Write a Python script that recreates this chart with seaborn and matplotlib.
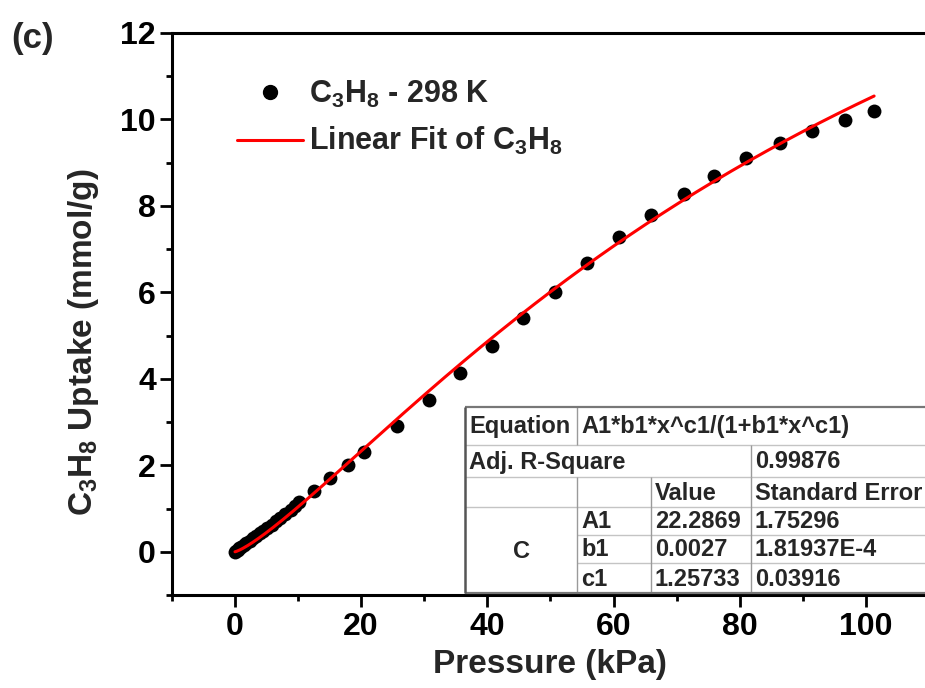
import numpy as np
import pandas as pd
import matplotlib
matplotlib.use("Agg")
import matplotlib.pyplot as plt
import seaborn as sns
from matplotlib.ticker import MultipleLocator
from matplotlib.lines import Line2D
from matplotlib.patches import Rectangle

# C3H8 adsorption isotherm at 298 K
pressure = [0.05, 0.2, 0.4, 0.7, 1.0, 1.4, 1.8, 2.3, 2.8, 3.3, 3.9, 4.5,
            5.1, 5.8, 6.5, 7.2, 8.0, 8.8, 9.5, 10.2,
            12.6, 15.1, 17.9, 20.4, 25.7, 30.7, 35.7, 40.7, 45.7, 50.7,
            55.8, 60.9, 65.9, 71.1, 75.9, 81.0, 86.4, 91.5, 96.7, 101.3]
uptake = [0.00, 0.02, 0.05, 0.08, 0.11, 0.15, 0.20, 0.25, 0.31, 0.36, 0.43, 0.49,
          0.56, 0.63, 0.71, 0.78, 0.87, 0.96, 1.05, 1.14,
          1.41, 1.70, 2.01, 2.30, 2.92, 3.52, 4.14, 4.77, 5.41, 6.02,
          6.67, 7.27, 7.78, 8.27, 8.69, 9.10, 9.45, 9.73, 9.98, 10.19]

# Fitted parameters
A1, b1, c1 = 22.2869, 0.0027, 1.25733
A1_txt, b1_txt, c1_txt = "22.2869", "0.0027", "1.25733"
A1_err, b1_err, c1_err = "1.75296", "1.81937E-4", "0.03916"
adj_r2 = "0.99876"
equation = "A1*b1*x^c1/(1+b1*x^c1)"

x_ticks = [0, 20, 40, 60, 80, 100]
y_ticks = [0, 2, 4, 6, 8, 10, 12]

sns.set_theme(style="ticks")
plt.rcParams.update({
    "font.family": ["Liberation Sans", "DejaVu Sans"],
    "font.weight": "bold",
    "mathtext.fontset": "custom",
    "mathtext.rm": "Liberation Sans:bold",
    "mathtext.it": "Liberation Sans:bold",
    "mathtext.bf": "Liberation Sans:bold",
    "mathtext.default": "rm",
    "axes.linewidth": 2.2,
    "xtick.major.width": 2.0,
    "ytick.major.width": 2.0,
    "xtick.minor.width": 2.0,
    "ytick.minor.width": 2.0,
    "xtick.color": "black",
    "ytick.color": "black",
    "axes.edgecolor": "black",
})

W, H = 925, 688
fig = plt.figure(figsize=(W / 100, H / 100), dpi=100)


def px_rect(l, t, r, b):
    return [l / W, 1 - b / H, (r - l) / W, (b - t) / H]


ax = fig.add_axes(px_rect(171.9, 33, 929, 595))

df = pd.DataFrame({"Pressure": pressure, "Uptake": uptake})
x_fit = np.linspace(0, pressure[-1], 400)
fit = pd.DataFrame({"Pressure": x_fit,
                    "Uptake": A1 * b1 * x_fit ** c1 / (1 + b1 * x_fit ** c1)})

sns.scatterplot(data=df, x="Pressure", y="Uptake", s=100, color="black",
                linewidth=0, ax=ax, zorder=3, legend=False)
sns.lineplot(data=fit, x="Pressure", y="Uptake", color="red", lw=2.2,
             ax=ax, zorder=4, legend=False)

ax.set_xlim(-10, 110)
ax.set_ylim(-1, 12)
ax.set_xticks(x_ticks)
ax.set_yticks(y_ticks)
ax.xaxis.set_minor_locator(MultipleLocator(10))
ax.yaxis.set_minor_locator(MultipleLocator(1))
ax.tick_params(which="major", length=8.5, labelsize=23, pad=3)
ax.tick_params(which="minor", length=4.5)
ax.tick_params(axis="x", pad=4)
for lab in ax.get_xticklabels() + ax.get_yticklabels():
    lab.set_fontweight("bold")
ax.spines["right"].set_visible(False)

ax.set_xlabel("Pressure (kPa)", fontsize=24, fontweight="bold")
ax.set_ylabel("C$_3$H$_8$ Uptake (mmol/g)", fontsize=24, fontweight="bold")
ax.xaxis.set_label_coords((550 - 171.9) / 757.1, (595 - 649) / 562)
ax.yaxis.set_label_coords((101 - 171.9) / 757.1, (595 - 342) / 562)
ax.xaxis.label.set_va("top")

handles = [
    Line2D([], [], marker="o", ls="none", color="black", markersize=10),
    Line2D([], [], color="red", lw=2.2),
]
labels = ["C$_3$H$_8$ - 298 K", "Linear Fit of C$_3$H$_8$"]
ax.legend(handles, labels, loc="upper left", frameon=False,
          bbox_to_anchor=(237 / W, 1 - 79 / H), bbox_transform=fig.transFigure,
          borderpad=0, borderaxespad=0, handlelength=2.15, handletextpad=0.2,
          labelspacing=0.5, prop={"family": "Liberation Sans", "weight": "bold", "size": 22})

fig.text(11 / W, 1 - 22 / H, "(c)", fontsize=25, fontweight="bold",
         ha="left", va="top")

# Parameter table drawn in pixel space on top of the plot
tab = fig.add_axes([0, 0, 1, 1], zorder=5)
tab.set_xlim(0, W)
tab.set_ylim(H, 0)
tab.axis("off")
tab.patch.set_alpha(0)

L, R = 465, 940
rows = [407, 445, 477, 507, 535, 563, 593]
cols = [465, 577, 651, 751, R]
inner = "#c4c4c4"
vline = "#9a9a9a"
tab.add_patch(Rectangle((L, rows[0]), R - L, rows[-1] - rows[0],
                        facecolor="white", edgecolor="none"))


def hl(y, x0, x1, c=inner, lw=1.0):
    tab.plot([x0, x1], [y, y], color=c, lw=lw, solid_capstyle="butt")


def vl(x, y0, y1, c=vline, lw=1.0):
    tab.plot([x, x], [y0, y1], color=c, lw=lw, solid_capstyle="butt")


hl(rows[1], L, R)
hl(rows[2], L, R)
hl(rows[3], L, R)
hl(rows[4], cols[1], R)
hl(rows[5], cols[1], R)
vl(cols[1], rows[0], rows[1])
vl(cols[3], rows[1], rows[2])
for cx in cols[1:4]:
    vl(cx, rows[2], rows[6])
hl(rows[0], L, R, c="#777777", lw=1.6)
hl(rows[6], L, R, c="#777777", lw=1.6)
vl(L, rows[0], rows[6], c="#555555", lw=1.8)

tfont = dict(fontsize=17, fontweight="bold", va="center", ha="left",
             family="Liberation Sans")
pad = 4


def cell(text, col_x, r):
    tab.text(col_x + pad, (rows[r] + rows[r + 1]) / 2 + 1, text, **tfont)


cell("Equation", cols[0], 0)
cell(equation, cols[1], 0)
cell("Adj. R-Square", cols[0], 1)
cell(adj_r2, cols[3], 1)
cell("Value", cols[2], 2)
cell("Standard Error", cols[3], 2)
for r, (name, val, err) in enumerate(
        [("A1", A1_txt, A1_err), ("b1", b1_txt, b1_err), ("c1", c1_txt, c1_err)], start=3):
    cell(name, cols[1], r)
    cell(val, cols[2], r)
    cell(err, cols[3], r)
tab.text((cols[0] + cols[1]) / 2, (rows[3] + rows[6]) / 2 + 1, "C",
         fontsize=17, fontweight="bold", ha="center", va="center",
         family="Liberation Sans")

fig.savefig("out.png", dpi=100)
